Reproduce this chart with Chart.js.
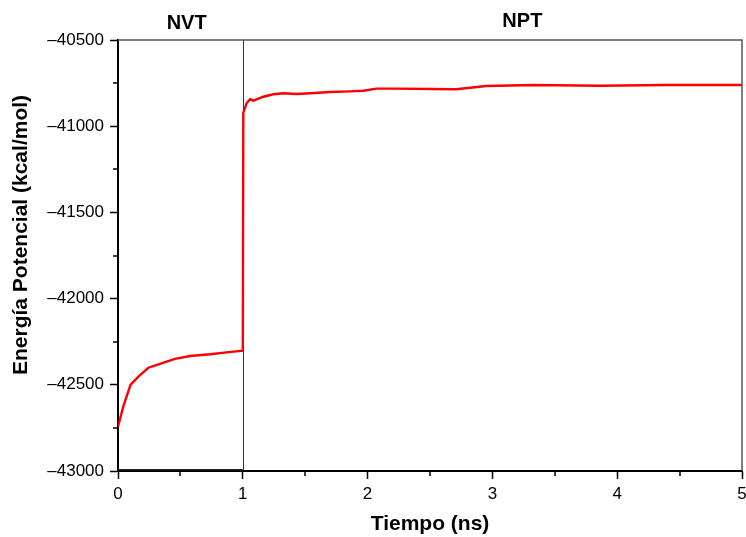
<!DOCTYPE html>
<html>
<head>
<meta charset="utf-8">
<script src="https://cdn.jsdelivr.net/npm/chart.js@4"></script>
<style>
  html, body { margin: 0; padding: 0; background: #fff; }
  #wrap { width: 746px; height: 537px; }
</style>
</head>
<body>
<div id="wrap"><canvas id="chart"></canvas></div>
<script>
const tiempo = [0, 0.042, 0.10, 0.163, 0.243, 0.337, 0.39, 0.457, 0.577, 0.737, 0.87, 1.0,
  1.004, 1.03, 1.058, 1.085, 1.11, 1.164, 1.245, 1.325, 1.43, 1.54, 1.7, 1.86, 1.966,
  2.07, 2.23, 2.5, 2.71, 2.95, 3.33, 3.86, 4.4, 5.0]
const energia = [-42743, -42627, -42501, -42453, -42401, -42379, -42366, -42350, -42333, -42323, -42312, -42302,
  -40923, -40867, -40844, -40852, -40844, -40829, -40815, -40809, -40813, -40809, -40802, -40798, -40794,
  -40782, -40782, -40784, -40786, -40767, -40761, -40765, -40761, -40761]
const baseTiempo = [0, 1]
const baseEnergia = [-42993, -42993]
const fases = ["NVT", "NPT"]
const yTicks = [-43000, -42500, -42000, -41500, -41000, -40500]
const xTicks = [0, 1, 2, 3, 4, 5]

const FONT = "'Liberation Sans', Arial, sans-serif"

// minor ticks, frame, phase divider and labels
const decor = {
  id: "decor",
  beforeDatasetsDraw(chart) {
    const { ctx, chartArea: a, scales: { x } } = chart
    ctx.save()
    ctx.strokeStyle = "#333"
    ctx.lineWidth = 1
    const xd = Math.round(x.getPixelForValue(1)) + 0.5
    ctx.beginPath()
    ctx.moveTo(xd, a.top)
    ctx.lineTo(xd, a.bottom)
    ctx.stroke()
    ctx.restore()
  },
  afterDraw(chart) {
    const { ctx, chartArea: a, scales: { x, y } } = chart
    ctx.save()
    // top and right frame
    ctx.strokeStyle = "#555"
    ctx.lineWidth = 1.5
    ctx.beginPath()
    ctx.moveTo(a.left, a.top)
    ctx.lineTo(a.right, a.top)
    ctx.lineTo(a.right, a.bottom)
    ctx.stroke()

    // minor ticks
    ctx.strokeStyle = "#000"
    ctx.lineWidth = 1.5
    ctx.beginPath()
    for (let i = 0; i < yTicks.length - 1; i++) {
      const py = Math.round(y.getPixelForValue((yTicks[i] + yTicks[i + 1]) / 2))
      ctx.moveTo(a.left - 5, py)
      ctx.lineTo(a.left, py)
    }
    for (let i = 0; i < xTicks.length - 1; i++) {
      const px = Math.round(x.getPixelForValue((xTicks[i] + xTicks[i + 1]) / 2))
      ctx.moveTo(px, a.bottom)
      ctx.lineTo(px, a.bottom + 5)
    }
    ctx.stroke()

    // phase labels
    ctx.fillStyle = "#000"
    ctx.font = "bold 20px " + FONT
    ctx.textAlign = "center"
    ctx.textBaseline = "middle"
    ctx.fillText(fases[0], x.getPixelForValue(0.55), 23)
    ctx.fillText(fases[1], x.getPixelForValue(3.24), 21)

    // y title
    ctx.translate(21, 235)
    ctx.rotate(-Math.PI / 2)
    ctx.font = "bold 21px " + FONT
    ctx.fillText("Energía Potencial (kcal/mol)", 0, 0)
    ctx.restore()
  },
}

new Chart(document.getElementById("chart"), {
  type: "line",
  data: {
    datasets: [
      {
        data: tiempo.map((t, i) => ({ x: t, y: energia[i] })),
        borderColor: "#ff0000",
        borderWidth: 2.4,
        pointRadius: 0,
        tension: 0,
        fill: false,
      },
      {
        data: baseTiempo.map((t, i) => ({ x: t, y: baseEnergia[i] })),
        borderColor: "#222",
        borderWidth: 1.5,
        pointRadius: 0,
        tension: 0,
        fill: false,
      },
    ],
  },
  options: {
    responsive: true,
    maintainAspectRatio: false,
    animation: false,
    layout: { padding: { top: 40, right: 4, left: 0, bottom: 0 } },
    plugins: { legend: { display: false }, tooltip: { enabled: false } },
    scales: {
      x: {
        type: "linear",
        min: 0,
        max: 5,
        afterBuildTicks: (s) => { s.ticks = xTicks.map((v) => ({ value: v })) },
        afterFit: (s) => { s.height = 66; s.paddingRight = 0; s.paddingLeft = 0 },
        ticks: { color: "#000", font: { family: FONT, size: 17 }, padding: 5, maxRotation: 0, callback: (v) => String(v) },
        grid: { drawOnChartArea: false, drawTicks: true, tickLength: 8, tickColor: "#000", tickWidth: 1.5 },
        border: { color: "#000", width: 2 },
        title: {
          display: true,
          text: "Tiempo (ns)",
          color: "#000",
          font: { family: FONT, size: 21, weight: "bold" },
          padding: { top: 8, bottom: 0 },
        },
      },
      y: {
        min: -43000,
        max: -40500,
        afterBuildTicks: (s) => { s.ticks = yTicks.map((v) => ({ value: v })) },
        afterFit: (s) => { s.width = 118; s.paddingTop = 0; s.paddingBottom = 0 },
        ticks: { color: "#000", font: { family: FONT, size: 17 }, padding: 6, callback: (v) => String(v).replace("-", "\u2013") },
        grid: { drawOnChartArea: false, drawTicks: true, tickLength: 8, tickColor: "#000", tickWidth: 1.5 },
        border: { color: "#000", width: 2 },
      },
    },
  },
  plugins: [decor],
})
</script>
</body>
</html>
